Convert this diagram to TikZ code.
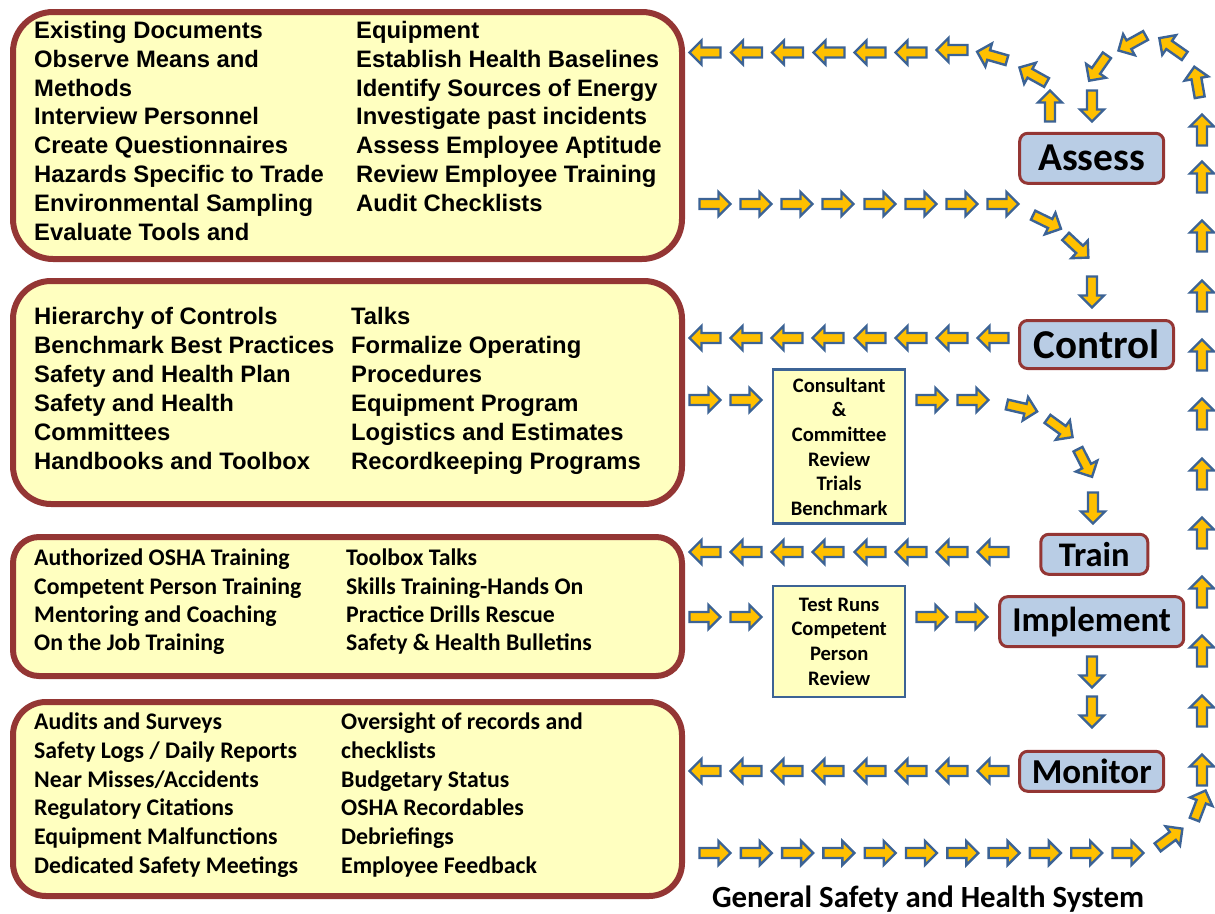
\documentclass[tikz,border=0pt]{standalone}
\usepackage{fontspec}
\setmainfont{Carlito}
\newfontfamily\arl{Liberation Sans}
\definecolor{ylw}{HTML}{FFFFC0}
\definecolor{brd}{HTML}{943634}
\definecolor{bluefill}{HTML}{B9CDE5}
\definecolor{arrfill}{HTML}{FFC000}
\definecolor{arrline}{HTML}{3C6395}
\begin{document}
\begin{tikzpicture}[x=1pt,y=-1pt,
  bigbox/.style={draw=brd,line width=6pt,fill=ylw,anchor=north west,inner sep=0pt},
  stepname/.style={draw=brd,line width=3pt,fill=bluefill,rounded corners=8pt,inner sep=0pt,font=\bfseries},
  midbox/.style={draw=arrline,line width=2.5pt,fill=ylw,inner sep=0pt,align=center,font=\bfseries\fontsize{20.6}{24.7}\selectfont},
  arialtxt/.style={anchor=base west,inner sep=0pt,font=\arl\bfseries\fontsize{23.8}{28}\selectfont},
  calitxt/.style={anchor=base west,inner sep=0pt,font=\bfseries\fontsize{23.8}{28}\selectfont},
  blk/.pic={\draw[fill=arrfill,draw=arrline,line width=2.4pt,line join=miter]
     (-15.5,-5) -- (3.5,-5) -- (3.5,-12) -- (15.5,0) -- (3.5,12) -- (3.5,5) -- (-15.5,5) -- cycle;}
]
\useasboundingbox (0,0) rectangle (1215,913);

% big boxes
\node[bigbox,rounded corners=40pt,minimum width=669pt,minimum height=247pt] (box1) at (10,9) {};
\node[bigbox,rounded corners=38pt,minimum width=669pt,minimum height=223pt] (box2) at (10,278) {};
\node[bigbox,rounded corners=26pt,minimum width=669pt,minimum height=139pt] (box3) at (10,534) {};
\node[bigbox,rounded corners=33pt,minimum width=669pt,minimum height=194pt] (box4) at (10,699) {};

% box 1 text
\foreach \t [count=\i] in {Existing Documents,Observe Means and,Methods,Interview Personnel,Create Questionnaires,Hazards Specific to Trade,Environmental Sampling,Evaluate Tools and}
  \node[arialtxt] (bA\i) at (34,{38.3+28.85*(\i-1)}) {\t};
\foreach \t [count=\i] in {Equipment,Establish Health Baselines,Identify Sources of Energy,Investigate past incidents,Assess Employee Aptitude,Review Employee Training,Audit Checklists}
  \node[arialtxt] (bB\i) at (356,{38.3+28.85*(\i-1)}) {\t};

% box 2 text
\foreach \t [count=\i] in {Hierarchy of Controls,Benchmark Best Practices,Safety and Health Plan,Safety and Health,Committees,Handbooks and Toolbox}
  \node[arialtxt] (cA\i) at (34,{324.5+29*(\i-1)}) {\t};
\foreach \t [count=\i] in {Talks,Formalize Operating,Procedures,Equipment Program,Logistics and Estimates,Recordkeeping Programs}
  \node[arialtxt] (cB\i) at (351,{324.5+29*(\i-1)}) {\t};

% box 3 text
\foreach \t [count=\i] in {Authorized OSHA Training,Competent Person Training,Mentoring and Coaching,On the Job Training}
  \node[calitxt] (dA\i) at (34,{565.7+28.4*(\i-1)}) {\t};
\foreach \t [count=\i] in {Toolbox Talks,Skills Training-Hands On,Practice Drills Rescue,Safety \& Health Bulletins}
  \node[calitxt] (dB\i) at (346,{565.7+28.4*(\i-1)}) {\t};

% box 4 text
\foreach \t [count=\i] in {Audits and Surveys,Safety Logs / Daily Reports,Near Misses/Accidents,Regulatory Citations,Equipment Malfunctions,Dedicated Safety Meetings}
  \node[calitxt] (eA\i) at (34,{729.5+28.8*(\i-1)}) {\t};
\foreach \t [count=\i] in {Oversight of records and,checklists,Budgetary Status,OSHA Recordables,Debriefings,Employee Feedback}
  \node[calitxt] (eB\i) at (341,{729.5+28.8*(\i-1)}) {\t};

% step boxes
\node[stepname,minimum width=144pt,minimum height=50pt,font=\bfseries\fontsize{39.5}{40}\selectfont] (assess) at (1091.7,158.3) {Assess};
\node[stepname,minimum width=154pt,minimum height=48pt,font=\bfseries\fontsize{41}{42}\selectfont] (control) at (1096.5,344.5) {Control};
\node[stepname,minimum width=107pt,minimum height=40pt,font=\bfseries\fontsize{34.5}{35}\selectfont] (train) at (1094.3,554.3) {Train};
\node[stepname,minimum width=184pt,minimum height=50pt,font=\bfseries\fontsize{34.8}{35}\selectfont] (implement) at (1091.7,621.7) {Implement};
\node[stepname,minimum width=144pt,minimum height=40pt,font=\bfseries\fontsize{35}{36}\selectfont] (monitor) at (1091.7,771.3) {Monitor};

% middle boxes
\node[midbox,minimum width=132pt,minimum height=154pt] (review) at (839.2,446.7) {Consultant\\\&\\Committee\\Review\\Trials\\Benchmark};
\node[midbox,minimum width=132pt,minimum height=111pt] (testruns) at (839.2,641.5) {Test Runs\\Competent\\Person\\Review};

% title
\node[anchor=base,inner sep=0pt,font=\bfseries\fontsize{30.8}{31}\selectfont] (title) at (928,907.5) {General Safety and Health System};

% ---- arrows ----
% row 1 (to box 1)
\foreach \x in {705,746.5,787.5,829,870,911} \pic[rotate=180] at (\x,52.5) {blk};
\pic[rotate=180] at (952,50) {blk};
\pic[rotate=164] at (992,56) {blk};
\pic[rotate=151] at (1033,75) {blk};
\pic[rotate=90] at (1050,106) {blk};
% loop from right column into Assess
\pic[rotate=100] at (1197,82) {blk};
\pic[rotate=145] at (1172,47) {blk};
\pic[rotate=209] at (1132,43) {blk};
\pic[rotate=235] at (1098,68) {blk};
\pic[rotate=-90] at (1092,106) {blk};
% row 2 (box 1 to Control)
\foreach \x in {715,756,797,838,880,921,962,1003} \pic at (\x,204) {blk};
\pic[rotate=-26] at (1047,222) {blk};
\pic[rotate=-43] at (1077,247) {blk};
\pic[rotate=-90] at (1092,292) {blk};
% row 3 (Control to box 2)
\foreach \x in {705,746,787,828,870,911,952,993} \pic[rotate=180] at (\x,338) {blk};
% row 4 (box 2 to Train)
\foreach \x in {705,746,932,973} \pic at (\x,400) {blk};
\pic[rotate=-13] at (1022,408) {blk};
\pic[rotate=-36] at (1060,428) {blk};
\pic[rotate=-63] at (1085,463) {blk};
\pic[rotate=-90] at (1093,508) {blk};
% row 5 (Train to box 3)
\foreach \x in {705,746,787,828,870,911,952,993} \pic[rotate=180] at (\x,552) {blk};
% row 6 (box 3 to Implement)
\foreach \x in {705,746,932,972} \pic at (\x,617) {blk};
% Implement to Monitor
\pic[rotate=-90] at (1092,672) {blk};
\pic[rotate=-90] at (1092,712) {blk};
% row 7 (Monitor to box 4)
\foreach \x in {705,746,787,828,870,911,952,993} \pic[rotate=180] at (\x,771) {blk};
% row 8 (box 4 back up)
\foreach \k in {0,...,10} \pic at ({715+41.3*\k},853) {blk};
\pic[rotate=37] at (1170,838) {blk};
\pic[rotate=69] at (1200,805) {blk};
% right column
\foreach \y in {130,177,236,296,355,414,474,533,592,651,711,770} \pic[rotate=90] at (1202,\y) {blk};
\end{tikzpicture}
\end{document}
